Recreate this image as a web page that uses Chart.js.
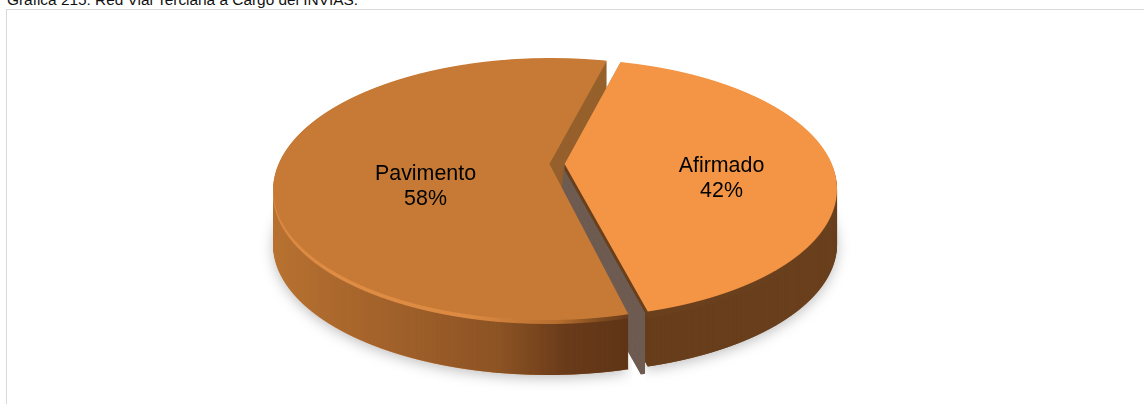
<!DOCTYPE html>
<html lang="es">
<head>
<meta charset="utf-8">
<title>Gráfica 215</title>
<script src="https://cdn.jsdelivr.net/npm/chart.js@4"></script>
<style>
  html, body { margin: 0; padding: 0; background: #fff; overflow: hidden; }
  #wrap { position: relative; width: 1144px; height: 404px; overflow: hidden; }
  #frame { position: absolute; left: 6px; top: 9px; width: 1200px; height: 500px; border: 1.5px solid #d9d9d9; box-sizing: border-box; }
  #caption { position: absolute; left: 7px; top: -9px; font: 15.4px "Liberation Sans", Arial, sans-serif; color: #111; white-space: nowrap; }
  canvas { position: absolute; left: 0; top: 0; }
</style>
</head>
<body>
<div id="wrap">
  <div id="frame"></div>
  <div id="caption">Gráfica 215: Red Vial Terciaria a Cargo del INVIAS.</div>
  <canvas id="pie" width="1144" height="404"></canvas>
</div>
<script>
const categories = ["Afirmado", "Pavimento"];
const shares = [42, 58];
const topColors = ["#f39545", "#c67a36"];

const W = 1144, H = 404;
// where the flat pie lands on the page (perspective tilt)
const apexX = 557, apexY = 164;
const upperY = 106, lowerY = 156, depth = 55;
const persp = (upperY - lowerY) / (upperY + lowerY);
const tiltY = upperY * (1 - persp);
const radiusX = 276 * Math.sqrt(1 - persp * persp);

function hGradient(ctx, stops) {
  const first = stops[0][0], last = stops[stops.length - 1][0];
  const g = ctx.createLinearGradient(first, 0, last, 0);
  stops.forEach(function (s) { g.addColorStop((s[0] - first) / (last - first), s[1]); });
  return g;
}

// the library's arc drawn row by row through the tilt, on its own layer
function silhouette(arc) {
  const layer = document.createElement('canvas');
  layer.width = W;
  layer.height = H;
  const c = layer.getContext('2d');
  // an offset arc is drawn a quarter of the offset larger than outerRadius
  const r = arc.outerRadius + arc.options.offset / 4;
  const rowToV = function (row) {
    const t = row - apexY;
    return t / (tiltY - persp * t);
  };
  for (let row = apexY - upperY - 10; row < apexY + lowerY + 10; row++) {
    const v0 = rowToV(row), v1 = rowToV(row + 1);
    const w = 1 + persp * (v0 + v1) / 2;
    c.save();
    c.beginPath();
    c.rect(0, row, W, 1);
    c.clip();
    c.translate(apexX, row);
    c.scale(radiusX / w / r, 1 / ((v1 - v0) * r));
    c.translate(-arc.x, -(arc.y + v0 * r));
    arc.draw(c);
    c.restore();
  }
  return layer;
}

function tinted(layer, fill) {
  const copy = document.createElement('canvas');
  copy.width = W;
  copy.height = H;
  const c = copy.getContext('2d');
  c.drawImage(layer, 0, 0);
  c.globalCompositeOperation = 'source-in';
  c.fillStyle = typeof fill === 'function' ? fill(c) : fill;
  c.fillRect(0, 0, W, H);
  return copy;
}

const tiltedPie = {
  id: 'tiltedPie',
  beforeDatasetDraw(chart) {
    const ctx = chart.ctx;
    const arcs = chart.getDatasetMeta(0).data;
    const afirmado = silhouette(arcs[0]), pavimento = silhouette(arcs[1]);

    const pavWall = tinted(pavimento, c => hGradient(c, [[270, '#b87231'], [400, '#a0602a'], [500, '#8c5324'], [565, '#6a3b1a'], [635, '#5e3415']]));
    const pavBack = tinted(pavimento, c => hGradient(c, [[270, '#b87231'], [480, '#a0602a'], [540, '#96602c'], [640, '#96602c']]));
    const pavRim = tinted(pavimento, c => hGradient(c, [[270, '#d98840'], [340, '#e08d45'], [470, '#dc8a42'], [560, '#b56d2e'], [600, '#7f4c20'], [635, '#66391a']]));
    const afiGray = tinted(afirmado, '#6f5c52');
    const afiWall = tinted(afirmado, c => hGradient(c, [[560, 'rgba(103,61,27,0)'], [644.5, 'rgba(103,61,27,0)'], [645, '#673d1b'], [850, '#6a401d']]));
    const afiRim = tinted(afirmado, '#6a401d');

    // soft shadow on the paper
    ctx.save();
    ctx.shadowColor = 'rgba(0,0,0,0.25)';
    ctx.shadowBlur = 13;
    ctx.shadowOffsetY = 3;
    ctx.drawImage(pavRim, 0, depth);
    ctx.drawImage(afiRim, 0, depth);
    ctx.restore();
    // keep only the shadow: the gap at the foot stays paper-coloured
    ctx.clearRect(632, 330, 13, 74);

    let d;
    // far cut of Pavimento, seen through the gap
    for (d = depth; d > 0; d--) {
      ctx.save();
      ctx.beginPath();
      ctx.rect(0, 0, W, apexY + d);
      ctx.clip();
      ctx.drawImage(pavBack, 0, d);
      ctx.restore();
    }
    // cut face of Afirmado leans a little to the left at its foot
    ctx.save();
    ctx.beginPath();
    ctx.rect(0, 0, 645, H);
    ctx.clip();
    for (d = depth + 8; d > 0; d--) {
      ctx.drawImage(afiGray, -7 * d / (depth + 8), d);
    }
    ctx.restore();
    for (d = depth; d > 6; d--) ctx.drawImage(afiWall, 0, d);
    for (d = 6; d > 0; d--) ctx.drawImage(afiRim, 0, d);

    // front of Pavimento stands before the gap
    for (d = depth; d > 0; d--) {
      ctx.save();
      ctx.beginPath();
      ctx.rect(0, apexY + d, W, H);
      ctx.clip();
      ctx.drawImage(d > 4 ? pavWall : pavRim, 0, d);
      ctx.restore();
    }

    ctx.drawImage(tinted(pavimento, topColors[1]), 0, 0);
    ctx.drawImage(tinted(afirmado, topColors[0]), 0, 0);
    return false;
  },
  afterDatasetsDraw(chart, args, opts) {
    const ctx = chart.ctx;
    ctx.save();
    ctx.fillStyle = '#000';
    ctx.font = '21.4px "Liberation Sans", Arial, sans-serif';
    ctx.textAlign = 'center';
    ctx.textBaseline = 'middle';
    categories.forEach(function (name, i) {
      const p = opts.labelAt[i];
      ctx.fillText(name, p[0], p[1]);
      ctx.fillText(shares[i] + '%', p[0], p[1] + 25);
    });
    ctx.restore();
  }
};

new Chart(document.getElementById('pie').getContext('2d'), {
  type: 'pie',
  data: {
    labels: categories,
    datasets: [{
      data: shares,
      backgroundColor: topColors,
      borderWidth: 0,
      offset: 22
    }]
  },
  options: {
    responsive: false,
    animation: false,
    rotation: 14.5,
    layout: { padding: 0 },
    plugins: {
      legend: { display: false },
      tooltip: { enabled: false },
      tiltedPie: { labelAt: [[721.5, 166], [425.5, 174]] }
    }
  },
  plugins: [tiltedPie]
});
</script>
</body>
</html>
